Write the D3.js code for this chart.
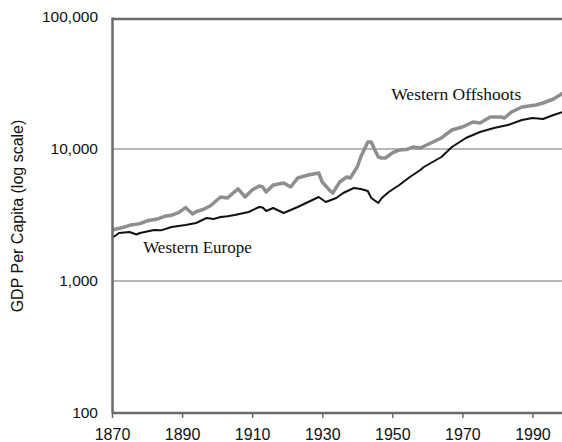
<!DOCTYPE html>
<html>
<head>
<meta charset="utf-8">
<script src="https://cdn.jsdelivr.net/npm/d3@7"></script>
<style>
  body { margin: 0; background: #fff; }
  svg { display: block; }
</style>
</head>
<body>
<div id="chart"></div>
<script>
// GDP per capita, 1990 int. dollars
var offYears = [1870, 1873, 1875, 1878, 1880, 1883, 1885, 1887, 1889, 1891, 1893, 1894, 1896, 1898, 1899, 1901, 1903, 1904, 1906, 1908, 1910, 1912, 1913, 1914, 1916, 1919, 1921, 1923, 1926, 1929, 1930, 1932, 1933, 1935, 1937, 1938, 1940, 1941, 1943, 1944, 1945, 1946, 1947, 1948, 1950, 1952, 1954, 1956, 1958, 1961, 1964, 1967, 1970, 1973, 1975, 1978, 1981, 1982, 1984, 1987, 1991, 1993, 1996, 1999];
var offValues = [2434, 2540, 2640, 2720, 2860, 2950, 3090, 3150, 3300, 3600, 3220, 3350, 3480, 3700, 3900, 4330, 4260, 4500, 4980, 4330, 4890, 5250, 5150, 4724, 5340, 5530, 5150, 6030, 6350, 6580, 5620, 4900, 4640, 5620, 6140, 6030, 7300, 8700, 11300, 11300, 9830, 8700, 8550, 8550, 9330, 9830, 9900, 10360, 10180, 11100, 12120, 13930, 14680, 16020, 15740, 17480, 17480, 17170, 19070, 20800, 21540, 22310, 23920, 26800];

var eurYears = [1870, 1872, 1875, 1877, 1878, 1882, 1884, 1887, 1891, 1894, 1897, 1899, 1901, 1903, 1905, 1909, 1912, 1913, 1914, 1916, 1919, 1921, 1923, 1926, 1929, 1931, 1934, 1936, 1939, 1941, 1943, 1944, 1946, 1947, 1949, 1952, 1955, 1958, 1959, 1964, 1967, 1971, 1975, 1979, 1983, 1987, 1990, 1993, 1996, 1999];
var eurValues = [2118, 2310, 2350, 2250, 2310, 2434, 2420, 2565, 2655, 2750, 3000, 2950, 3053, 3100, 3162, 3332, 3636, 3600, 3390, 3573, 3275, 3451, 3636, 3967, 4329, 3967, 4255, 4642, 5065, 4978, 4807, 4255, 3898, 4255, 4724, 5337, 6136, 6934, 7305, 8697, 10360, 12120, 13450, 14430, 15200, 16590, 17170, 16880, 18100, 19200];

var xTicks = [1870, 1890, 1910, 1930, 1950, 1970, 1990];
var yTicks = [100, 1000, 10000, 100000];
var gridValues = [1000, 10000];

var W = 562, H = 442;
var margin = { top: 17, right: -2, bottom: 29, left: 112 };
var width = W - margin.left - margin.right,
    height = H - margin.top - margin.bottom;

var svg = d3.select('#chart').append('svg')
    .attr('width', W)
    .attr('height', H);

var g = svg.append('g')
    .attr('transform', 'translate(' + margin.left + ',' + margin.top + ')');

var x = d3.scaleLinear().domain([1870, 1999]).range([0, width]);
var y = d3.scaleLog().domain([100, 100000]).range([height, 0]);

// gridlines
g.selectAll('.grid')
  .data(gridValues)
  .enter().append('line')
  .attr('x1', 0).attr('x2', width)
  .attr('y1', function(d) { return y(d); })
  .attr('y2', function(d) { return y(d); })
  .attr('stroke', '#707070')
  .attr('stroke-width', 1.2);

// top frame line
g.append('line')
  .attr('x1', 0).attr('x2', width)
  .attr('y1', 2).attr('y2', 2)
  .attr('stroke', '#6a6a6a')
  .attr('stroke-width', 2.5);

var line = d3.line()
  .x(function(d) { return x(d[0]); })
  .y(function(d) { return y(d[1]); });

g.append('path')
  .datum(d3.zip(offYears, offValues))
  .attr('fill', 'none')
  .attr('stroke', '#8e8e8e')
  .attr('stroke-width', 3.5)
  .attr('stroke-linejoin', 'round')
  .attr('d', line);

g.append('path')
  .datum(d3.zip(eurYears, eurValues))
  .attr('fill', 'none')
  .attr('stroke', '#111')
  .attr('stroke-width', 2)
  .attr('stroke-linejoin', 'round')
  .attr('d', line);

// axes
var yAxis = g.append('g')
  .call(d3.axisLeft(y).tickValues(yTicks).tickSize(0).tickPadding(14)
    .tickFormat(d3.format(',')));
yAxis.select('.domain').attr('stroke', '#6a6a6a').attr('stroke-width', 2.5);
yAxis.selectAll('text')
  .attr('font-family', 'Liberation Sans, Arial, sans-serif')
  .attr('font-size', 15.5)
  .attr('fill', '#111');

var xAxis = g.append('g')
  .attr('transform', 'translate(0,' + height + ')')
  .call(d3.axisBottom(x).tickValues(xTicks).tickSize(5).tickPadding(11)
    .tickFormat(d3.format('d')));
xAxis.select('.domain').attr('stroke', '#6a6a6a').attr('stroke-width', 2.5)
  .attr('d', 'M0,0H' + width);
xAxis.selectAll('line').attr('stroke', '#6a6a6a').attr('stroke-width', 1.5);
xAxis.selectAll('text')
  .attr('font-family', 'Liberation Sans, Arial, sans-serif')
  .attr('font-size', 16)
  .attr('fill', '#111');

// y title
svg.append('text')
  .attr('transform', 'translate(23,216) rotate(-90)')
  .attr('text-anchor', 'middle')
  .attr('font-family', 'Liberation Sans, Arial, sans-serif')
  .attr('font-size', 16)
  .attr('fill', '#111')
  .text('GDP Per Capita (log scale)');

// series labels
g.append('text')
  .attr('x', x(1878.9)).attr('y', y(1630))
  .attr('font-family', 'Liberation Serif, Times New Roman, serif')
  .attr('font-size', 17)
  .attr('fill', '#111')
  .text('Western Europe');

g.append('text')
  .attr('x', x(1949.7)).attr('y', y(23700))
  .attr('font-family', 'Liberation Serif, Times New Roman, serif')
  .attr('font-size', 17.5)
  .attr('fill', '#111')
  .text('Western Offshoots');
</script>
</body>
</html>
